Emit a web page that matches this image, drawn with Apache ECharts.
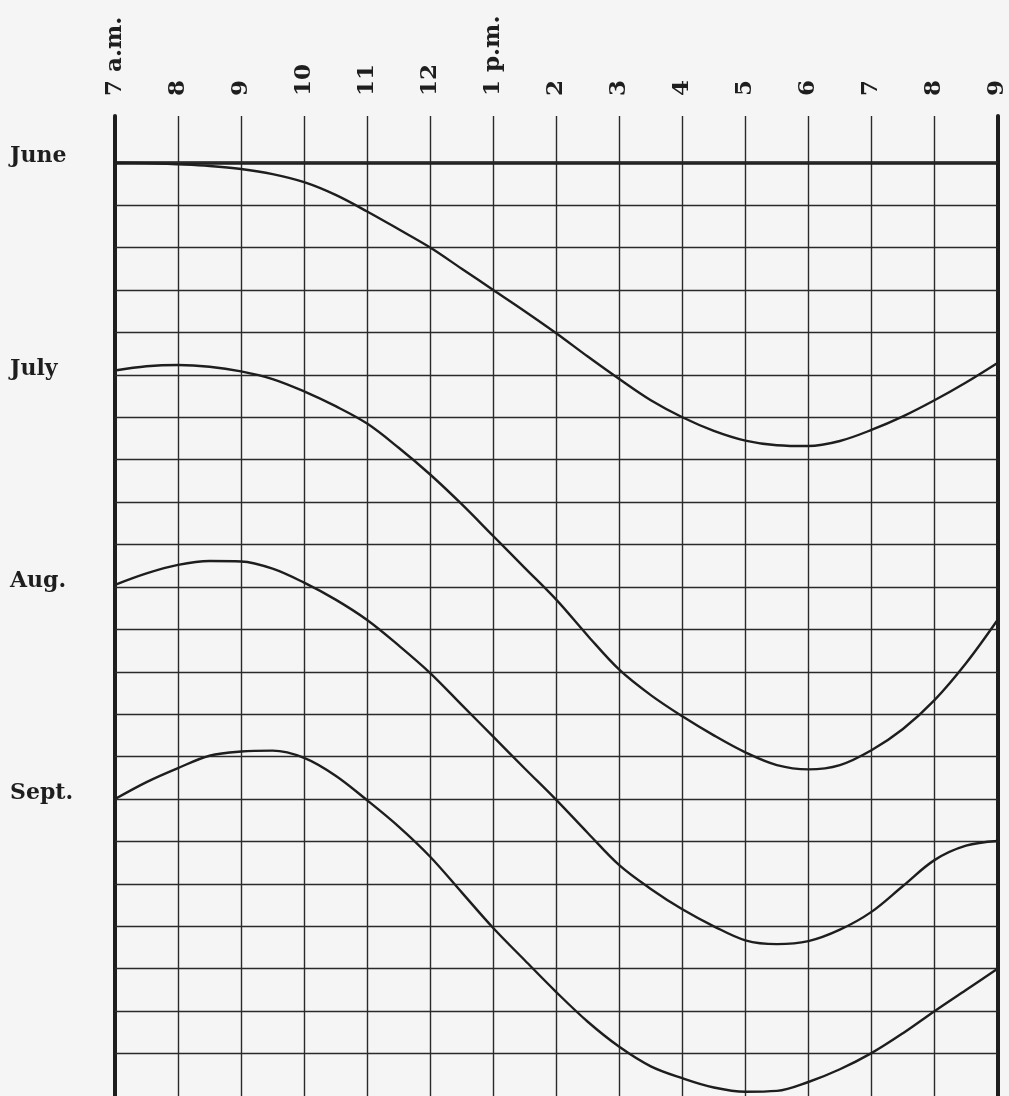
<!DOCTYPE html>
<html>
<head>
<meta charset="utf-8">
<script src="https://cdn.jsdelivr.net/npm/echarts@6/dist/echarts.min.js"></script>
<style>
  html, body { margin: 0; padding: 0; background: #f5f5f5; }
  #chart { width: 1009px; height: 1096px; }
</style>
</head>
<body>
<div id="chart"></div>
<script>
// hour ticks, 7 a.m. to 9 p.m.
const hours = [7, 8, 9, 10, 11, 12, 13, 14, 15, 16, 17, 18, 19, 20, 21]
const hourLabels = ['7 a.m.', '8', '9', '10', '11', '12', '1 p.m.', '2', '3', '4', '5', '6', '7', '8', '9']

// month rows (grid squares below the June line)
const monthNames = ['June', 'July', 'Aug.', 'Sept.']
const monthRows = [0, 5, 10, 15]
const gridRows = [0, 1, 2, 3, 4, 5, 6, 7, 8, 9, 10, 11, 12, 13, 14, 15, 16, 17, 18, 19, 20, 21]

// curves every half hour
const halfHours = [7, 7.5, 8, 8.5, 9, 9.5, 10, 10.5, 11, 11.5, 12, 12.5, 13, 13.5, 14,
  14.5, 15, 15.5, 16, 16.5, 17, 17.5, 18, 18.5, 19, 19.5, 20, 20.5, 21]
const june = [0, 0.01, 0.04, 0.08, 0.15, 0.27, 0.46, 0.76, 1.15, 1.57, 2.0, 2.5, 3.0, 3.5, 4.02,
  4.57, 5.1, 5.6, 6.0, 6.32, 6.55, 6.66, 6.68, 6.56, 6.3, 5.98, 5.6, 5.18, 4.72]
const july = [4.9, 4.8, 4.77, 4.81, 4.92, 5.1, 5.39, 5.74, 6.15, 6.72, 7.35, 8.05, 8.8, 9.55, 10.3,
  11.15, 11.95, 12.55, 13.05, 13.5, 13.9, 14.2, 14.3, 14.2, 13.85, 13.35, 12.67, 11.8, 10.78]
const aug = [9.95, 9.68, 9.48, 9.39, 9.4, 9.57, 9.9, 10.3, 10.78, 11.38, 12.03, 12.78, 13.53, 14.28, 15.02,
  15.8, 16.56, 17.12, 17.6, 18.0, 18.33, 18.42, 18.35, 18.08, 17.66, 17.05, 16.44, 16.1, 15.99]
const sept = [15.0, 14.6, 14.27, 13.98, 13.88, 13.86, 14.03, 14.45, 15.03, 15.65, 16.36, 17.2, 18.04, 18.8, 19.55,
  20.25, 20.84, 21.3, 21.58, 21.8, 21.9, 21.88, 21.67, 21.37, 20.99, 20.52, 20.0, 19.5, 19.0]

const ink = '#1e1e1e'
const serif = 'DejaVu Serif'

const curve = (name, values) => ({
  name,
  type: 'line',
  data: halfHours.map((h, i) => [h, values[i]]),
  smooth: 0.35,
  symbol: 'none',
  z: 5,
  lineStyle: { color: ink, width: 2.4 },
})

const chart = echarts.init(document.getElementById('chart'))

chart.setOption({
  backgroundColor: '#f5f5f5',
  animation: false,
  grid: { left: 115, right: 9, top: 116, bottom: 0 },
  xAxis: {
    type: 'value',
    position: 'top',
    min: 7,
    max: 21,
    interval: 1,
    axisLine: { show: true, lineStyle: { color: ink, width: 3.5 } },
    axisTick: { show: false },
    splitLine: { show: true, lineStyle: { color: '#2a2a2a', width: 1.4 } },
    axisLabel: {
      rotate: 90,
      margin: 20,
      color: ink,
      fontFamily: serif,
      fontWeight: 'bold',
      fontSize: 23,
      formatter: (v) => hourLabels[hours.indexOf(v)] ?? '',
    },
  },
  yAxis: [
    {
      type: 'value',
      inverse: true,
      min: -1.1,
      max: 22,
      axisLine: { show: true, lineStyle: { color: ink, width: 4 } },
      axisTick: { show: false },
      splitLine: { show: false },
      axisLabel: {
        customValues: monthRows,
        align: 'left',
        margin: 105,
        verticalAlign: 'bottom',
        lineHeight: 12,
        color: ink,
        fontFamily: serif,
        fontWeight: 'bold',
        fontSize: 22,
        formatter: (v) => monthNames[monthRows.indexOf(v)] ?? '',
      },
    },
    {
      type: 'value',
      position: 'right',
      inverse: true,
      min: -1.1,
      max: 22,
      axisLine: { show: true, lineStyle: { color: ink, width: 4 } },
      axisTick: { show: false },
      axisLabel: { show: false },
      splitLine: { show: false },
    },
  ],
  series: [
    {
      name: 'rows',
      type: 'line',
      data: [],
      silent: true,
      z: 1,
      markLine: {
        silent: true,
        symbol: 'none',
        label: { show: false },
        lineStyle: { type: 'solid', color: '#2a2a2a', width: 1.4 },
        data: gridRows.map((r) => ({ yAxis: r })),
      },
    },
    curve('June', june),
    curve('July', july),
    curve('Aug.', aug),
    curve('Sept.', sept),
  ],
})
</script>
</body>
</html>
